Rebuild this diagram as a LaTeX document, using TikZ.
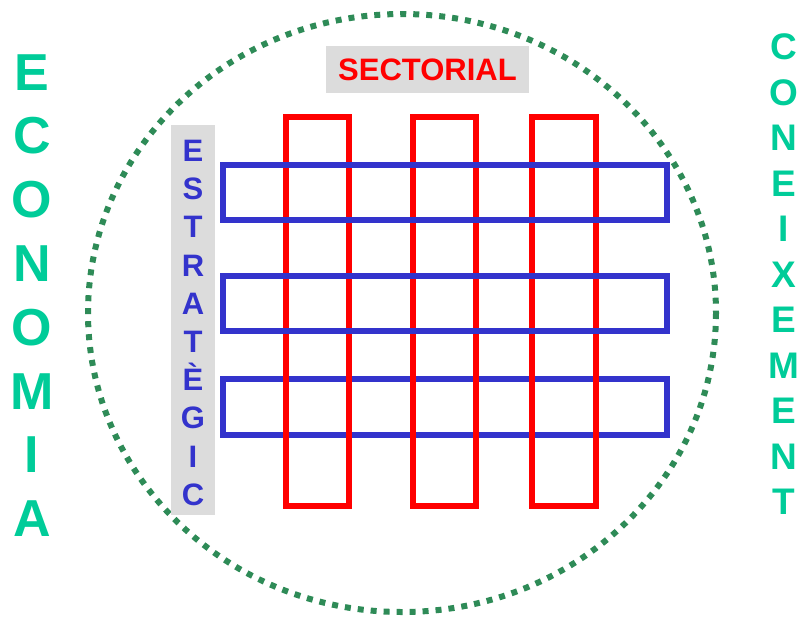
\documentclass[tikz,border=0pt]{standalone}
\usepackage{fontspec}
\setmainfont{Liberation Sans}
\usetikzlibrary{chains}
\definecolor{ecogreen}{RGB}{0,204,153}
\definecolor{dotgreen}{RGB}{46,139,87}
\definecolor{estblue}{RGB}{51,51,204}
\definecolor{labelgray}{RGB}{220,220,220}

\begin{document}
\begin{tikzpicture}[x=1pt,y=-1pt]
\useasboundingbox (0,0) rectangle (798,619);
\tikzstyle{bluebar}=[draw=estblue,line width=5.5pt]
\tikzstyle{redbar}=[draw=red,line width=5.5pt]
\tikzstyle{ecoletter}=[inner sep=0pt,minimum height=63.4pt,text height=38pt,text depth=0pt,
  text=ecogreen,font=\fontsize{52}{52}\selectfont\bfseries]
\tikzstyle{conletter}=[inner sep=0pt,minimum height=45.1pt,text height=27pt,text depth=0pt,
  text=ecogreen,font=\fontsize{37}{37}\selectfont\bfseries]
\tikzstyle{estletter}=[inner sep=0pt,minimum height=37.8pt,text height=23pt,text depth=0pt,
  text=estblue,font=\fontsize{31}{31}\selectfont\bfseries]
% dotted circle
\draw[dotgreen,line width=6pt,dash pattern=on 6pt off 7pt] (402,313) ellipse [x radius=314,y radius=299];
% grid
\draw[bluebar] (223,379) rectangle (667,435);
\draw[redbar] (286,117) rectangle (349,506);
\draw[redbar] (413,117) rectangle (476,506);
\draw[redbar] (532,117) rectangle (596,506);
\draw[bluebar] (223,165) rectangle (667,220);
\draw[bluebar] (223,276) rectangle (667,331);
% labels
\node[fill=labelgray,minimum width=203pt,minimum height=47pt,text=red,
  font=\fontsize{31}{31}\selectfont\bfseries] (sectorial) at (427.5,69.5) {SECTORIAL};
\fill[labelgray] (171,125) rectangle (215,515);
\begin{scope}[start chain=estrategic going below,node distance=0pt]
    \node [on chain=estrategic,estletter] at (193,150) {E};
    \node [on chain=estrategic,estletter] {S};
    \node [on chain=estrategic,estletter] {T};
    \node [on chain=estrategic,estletter] {R};
    \node [on chain=estrategic,estletter] {A};
    \node [on chain=estrategic,estletter] {T};
    \node [on chain=estrategic,estletter] {È};
    \node [on chain=estrategic,estletter] {G};
    \node [on chain=estrategic,estletter] {I};
    \node [on chain=estrategic,estletter] {C};
\end{scope}
\begin{scope}[start chain=economia going below,node distance=0pt]
    \node [on chain=economia,ecoletter] at (32,71) {E};
    \node [on chain=economia,ecoletter] {C};
    \node [on chain=economia,ecoletter] {O};
    \node [on chain=economia,ecoletter] {N};
    \node [on chain=economia,ecoletter] {O};
    \node [on chain=economia,ecoletter] {M};
    \node [on chain=economia,ecoletter] {I};
    \node [on chain=economia,ecoletter] {A};
\end{scope}
\begin{scope}[start chain=coneixement going below,node distance=0pt]
    \node [on chain=coneixement,conletter] at (784,46) {C};
    \node [on chain=coneixement,conletter] {O};
    \node [on chain=coneixement,conletter] {N};
    \node [on chain=coneixement,conletter] {E};
    \node [on chain=coneixement,conletter] {I};
    \node [on chain=coneixement,conletter] {X};
    \node [on chain=coneixement,conletter] {E};
    \node [on chain=coneixement,conletter] {M};
    \node [on chain=coneixement,conletter] {E};
    \node [on chain=coneixement,conletter] {N};
    \node [on chain=coneixement,conletter] {T};
\end{scope}
\end{tikzpicture}
\end{document}
